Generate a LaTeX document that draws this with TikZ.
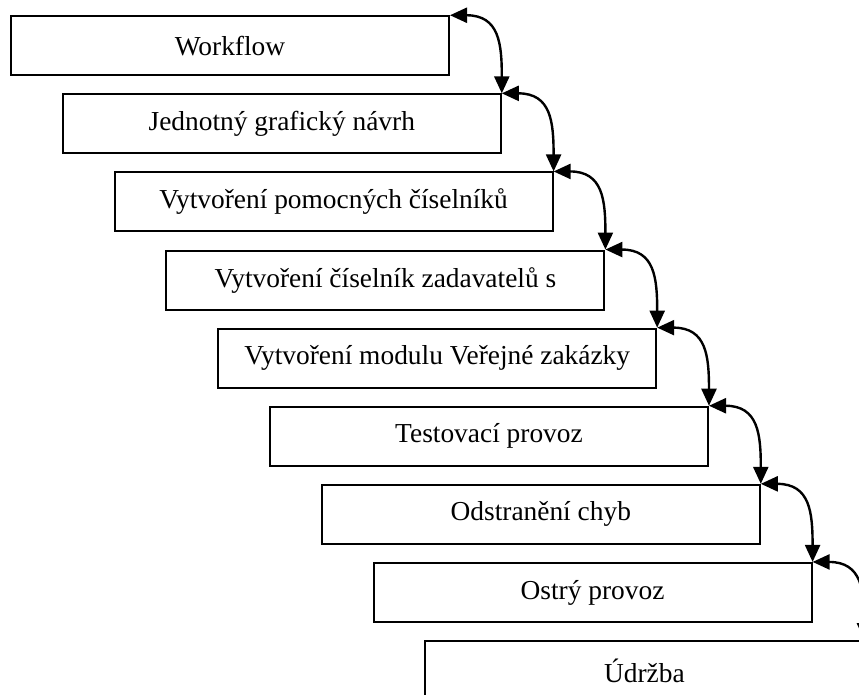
\documentclass[tikz,border=0pt]{standalone}
\usepackage{fontspec}
\setmainfont{Liberation Serif}
\usetikzlibrary{arrows.meta}

\begin{document}
\begin{tikzpicture}[x=0.5pt,y=-0.5pt,
  phase/.style={draw,line width=1pt,minimum width=219pt,minimum height=29.5pt,inner sep=0pt,font=\fontsize{13.7}{16}\selectfont},
  link/.style={{Triangle[length=8.5pt,width=7.5pt]}-{Triangle[length=8.5pt,width=7.5pt]},line width=1.2pt,out=0,in=90,looseness=1.35}]
\clip (0,0) rectangle (859,695);
\node[phase] (workflow) at (230,45.75) {Workflow};
\node[phase] (navrh) at (281.8,123.85) {Jednotný grafický návrh};
\node[phase] (ciselniky) at (333.6,201.95) {Vytvoření pomocných číselníků};
\node[phase] (zadavatele) at (385.4,280.05) {Vytvoření číselník zadavatelů s};
\node[phase] (modul) at (437.2,358.15) {Vytvoření modulu Veřejné zakázky};
\node[phase] (test) at (489,436.25) {Testovací provoz};
\node[phase] (chyby) at (540.8,514.35) {Odstranění chyb};
\node[phase] (ostry) at (592.6,592.45) {Ostrý provoz};
\node[phase] (udrzba) at (644.4,670.55) {Údržba};
\draw[link] (workflow.north east) to (navrh.north east);
\draw[link] (navrh.north east) to (ciselniky.north east);
\draw[link] (ciselniky.north east) to (zadavatele.north east);
\draw[link] (zadavatele.north east) to (modul.north east);
\draw[link] (modul.north east) to (test.north east);
\draw[link] (test.north east) to (chyby.north east);
\draw[link] (chyby.north east) to (ostry.north east);
\draw[link] (ostry.north east) to (udrzba.north east);
\end{tikzpicture}
\end{document}
